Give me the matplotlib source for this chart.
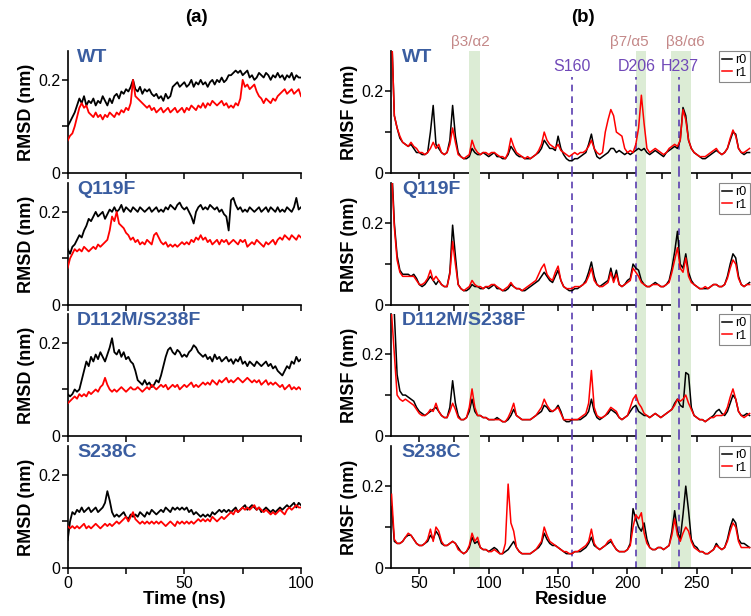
import numpy as np
import matplotlib
matplotlib.use("Agg")
import matplotlib.pyplot as plt

plt.rcParams['font.family'] = ['Liberation Sans', 'DejaVu Sans']

# ---------------- data ----------------
TIME = np.arange(0, 101)          # ns, 1 ns steps
RESIDUE = np.arange(30, 289, 2)   # residues 30..288

VARIANTS = ["WT", "Q119F", "D112M/S238F", "S238C"]

RMSD_WT_R0 = [0.10, 0.11, 0.12, 0.13, 0.145, 0.16, 0.15, 0.165, 0.145, 0.155,
              0.15, 0.16, 0.145, 0.155, 0.15, 0.165, 0.155, 0.145, 0.16, 0.15,
              0.165, 0.17, 0.16, 0.175, 0.17, 0.18, 0.175, 0.185, 0.2, 0.18,
              0.175, 0.185, 0.17, 0.18, 0.175, 0.18, 0.17, 0.165, 0.17, 0.16,
              0.165, 0.155, 0.17, 0.16, 0.165, 0.185, 0.19, 0.195, 0.185, 0.19,
              0.195, 0.185, 0.19, 0.2, 0.185, 0.195, 0.19, 0.2, 0.19, 0.195,
              0.185, 0.195, 0.2, 0.19, 0.2, 0.195, 0.205, 0.195, 0.2, 0.21,
              0.21, 0.215, 0.22, 0.215, 0.22, 0.21, 0.215, 0.22, 0.205, 0.21,
              0.2, 0.205, 0.215, 0.21, 0.205, 0.215, 0.21, 0.2, 0.21, 0.205,
              0.215, 0.205, 0.21, 0.2, 0.21, 0.205, 0.215, 0.2, 0.21, 0.205,
              0.205]
RMSD_WT_R1 = [0.07, 0.08, 0.085, 0.1, 0.12, 0.14, 0.15, 0.14, 0.145, 0.13,
              0.125, 0.12, 0.13, 0.12, 0.125, 0.115, 0.125, 0.12, 0.13, 0.125,
              0.12, 0.13, 0.125, 0.135, 0.13, 0.14, 0.135, 0.15, 0.2, 0.165,
              0.16, 0.155, 0.15, 0.145, 0.14, 0.145, 0.135, 0.14, 0.13, 0.135,
              0.14, 0.13, 0.135, 0.14, 0.13, 0.135, 0.14, 0.13, 0.135, 0.14,
              0.13, 0.14, 0.135, 0.145, 0.14, 0.135, 0.145, 0.14, 0.15, 0.14,
              0.15, 0.145, 0.155, 0.15, 0.145, 0.15, 0.155, 0.145, 0.15, 0.14,
              0.145, 0.14, 0.15, 0.145, 0.16, 0.2, 0.185, 0.19, 0.18, 0.185,
              0.19, 0.175, 0.165, 0.16, 0.15, 0.16, 0.155, 0.15, 0.16, 0.155,
              0.165, 0.17, 0.175, 0.18, 0.17, 0.175, 0.18, 0.17, 0.175, 0.18,
              0.165]

RMSD_Q119F_R0 = [0.12, 0.11, 0.125, 0.13, 0.14, 0.15, 0.145, 0.16, 0.17, 0.185,
                 0.18, 0.19, 0.2, 0.19, 0.195, 0.2, 0.185, 0.195, 0.205, 0.2,
                 0.21, 0.2, 0.205, 0.215, 0.2, 0.21, 0.205, 0.2, 0.21, 0.205,
                 0.2, 0.21, 0.205, 0.2, 0.205, 0.21, 0.2, 0.205, 0.21, 0.2,
                 0.205, 0.2, 0.21, 0.205, 0.215, 0.21, 0.205, 0.215, 0.22, 0.21,
                 0.205, 0.21, 0.2, 0.19, 0.175, 0.2, 0.21, 0.215, 0.205, 0.21,
                 0.205, 0.215, 0.21, 0.205, 0.21, 0.2, 0.205, 0.195, 0.19, 0.16,
                 0.225, 0.23, 0.215, 0.205, 0.21, 0.2, 0.205, 0.2, 0.21, 0.205,
                 0.2, 0.205, 0.21, 0.2, 0.205, 0.21, 0.2, 0.21, 0.205, 0.2,
                 0.21, 0.2, 0.205, 0.2, 0.21, 0.205, 0.2, 0.21, 0.23, 0.205,
                 0.21]
RMSD_Q119F_R1 = [0.08, 0.1, 0.11, 0.12, 0.115, 0.12, 0.115, 0.125, 0.12, 0.115,
                 0.12, 0.125, 0.12, 0.13, 0.125, 0.13, 0.135, 0.14, 0.16, 0.19,
                 0.18, 0.2, 0.175, 0.17, 0.165, 0.155, 0.15, 0.14, 0.145, 0.135,
                 0.14, 0.13, 0.135, 0.13, 0.14, 0.135, 0.13, 0.15, 0.155, 0.145,
                 0.135, 0.13, 0.135, 0.125, 0.13, 0.125, 0.13, 0.125, 0.13, 0.135,
                 0.13, 0.135, 0.13, 0.14, 0.135, 0.145, 0.14, 0.15, 0.14, 0.145,
                 0.135, 0.14, 0.13, 0.135, 0.14, 0.13, 0.14, 0.135, 0.14, 0.13,
                 0.135, 0.14, 0.135, 0.13, 0.14, 0.135, 0.14, 0.125, 0.13, 0.135,
                 0.13, 0.14, 0.135, 0.13, 0.125, 0.135, 0.13, 0.135, 0.14, 0.13,
                 0.14, 0.145, 0.14, 0.15, 0.145, 0.14, 0.15, 0.145, 0.14, 0.15,
                 0.145]

RMSD_D112M_R0 = [0.09, 0.085, 0.09, 0.1, 0.095, 0.1, 0.12, 0.14, 0.16, 0.15,
                 0.17, 0.16, 0.175, 0.165, 0.18, 0.17, 0.16, 0.175, 0.19, 0.21,
                 0.18, 0.175, 0.185, 0.17, 0.18, 0.165, 0.17, 0.16, 0.155, 0.14,
                 0.12, 0.115, 0.11, 0.12, 0.11, 0.115, 0.105, 0.11, 0.12, 0.115,
                 0.13, 0.15, 0.17, 0.185, 0.19, 0.18, 0.175, 0.185, 0.18, 0.17,
                 0.175, 0.17, 0.18, 0.185, 0.195, 0.19, 0.18, 0.175, 0.17, 0.175,
                 0.165, 0.17, 0.16, 0.175, 0.165, 0.17, 0.16, 0.165, 0.17, 0.16,
                 0.165, 0.155, 0.165, 0.16, 0.17, 0.155, 0.16, 0.15, 0.16, 0.155,
                 0.15, 0.16, 0.155, 0.15, 0.155, 0.16, 0.15, 0.155, 0.145, 0.15,
                 0.14, 0.135, 0.13, 0.14, 0.15, 0.145, 0.16, 0.155, 0.17, 0.16,
                 0.165]
RMSD_D112M_R1 = [0.07, 0.075, 0.08, 0.085, 0.08, 0.09, 0.085, 0.09, 0.085, 0.095,
                 0.09, 0.095, 0.1, 0.095, 0.105, 0.11, 0.125, 0.11, 0.1, 0.095,
                 0.1, 0.095, 0.1, 0.105, 0.1, 0.095, 0.1, 0.105, 0.1, 0.1,
                 0.105, 0.1, 0.095, 0.1, 0.105, 0.1, 0.11, 0.105, 0.1, 0.105,
                 0.11, 0.105, 0.11, 0.1, 0.105, 0.11, 0.105, 0.11, 0.1, 0.105,
                 0.11, 0.105, 0.11, 0.115, 0.105, 0.11, 0.105, 0.11, 0.115, 0.11,
                 0.115, 0.11, 0.12, 0.115, 0.11, 0.12, 0.115, 0.12, 0.125, 0.115,
                 0.12, 0.115, 0.12, 0.125, 0.12, 0.115, 0.12, 0.125, 0.12, 0.115,
                 0.12, 0.115, 0.12, 0.11, 0.115, 0.12, 0.11, 0.115, 0.11, 0.115,
                 0.11, 0.105, 0.11, 0.1, 0.105, 0.11, 0.1, 0.105, 0.1, 0.105,
                 0.1]

RMSD_S238C_R0 = [0.06, 0.1, 0.12, 0.115, 0.125, 0.12, 0.13, 0.12, 0.125, 0.13,
                 0.12, 0.125, 0.13, 0.12, 0.125, 0.13, 0.14, 0.165, 0.145, 0.12,
                 0.11, 0.115, 0.11, 0.115, 0.12, 0.11, 0.105, 0.115, 0.11, 0.115,
                 0.11, 0.12, 0.115, 0.11, 0.12, 0.115, 0.125, 0.12, 0.115, 0.12,
                 0.125, 0.12, 0.13, 0.125, 0.12, 0.13, 0.125, 0.13, 0.125, 0.13,
                 0.125, 0.13, 0.12, 0.125, 0.115, 0.12, 0.115, 0.11, 0.115, 0.11,
                 0.115, 0.11, 0.12, 0.115, 0.12, 0.125, 0.12, 0.125, 0.12, 0.125,
                 0.12, 0.125, 0.13, 0.12, 0.125, 0.13, 0.135, 0.125, 0.13, 0.135,
                 0.13, 0.125, 0.13, 0.12, 0.125, 0.13, 0.125, 0.12, 0.125, 0.12,
                 0.125, 0.13, 0.125, 0.13, 0.135, 0.13, 0.135, 0.14, 0.13, 0.14,
                 0.135]
RMSD_S238C_R1 = [0.09, 0.085, 0.09, 0.085, 0.09, 0.085, 0.09, 0.095, 0.085, 0.09,
                 0.085, 0.09, 0.095, 0.09, 0.085, 0.09, 0.095, 0.09, 0.095, 0.09,
                 0.095, 0.1, 0.095, 0.1, 0.105, 0.11, 0.1, 0.11, 0.12, 0.105,
                 0.1, 0.095, 0.1, 0.095, 0.1, 0.095, 0.1, 0.095, 0.1, 0.095,
                 0.1, 0.095, 0.09, 0.095, 0.1, 0.095, 0.09, 0.1, 0.095, 0.1,
                 0.095, 0.1, 0.095, 0.1, 0.095, 0.1, 0.105, 0.1, 0.105, 0.1,
                 0.105, 0.1, 0.11, 0.105, 0.1, 0.105, 0.11, 0.105, 0.11, 0.115,
                 0.12, 0.115, 0.125, 0.12, 0.125, 0.13, 0.125, 0.13, 0.125, 0.13,
                 0.135, 0.125, 0.13, 0.125, 0.12, 0.125, 0.12, 0.115, 0.12, 0.115,
                 0.12, 0.125, 0.12, 0.115, 0.125, 0.13, 0.125, 0.13, 0.135, 0.13,
                 0.13]

RMSF_WT_R0 = [0.35, 0.14, 0.11, 0.085, 0.075, 0.07, 0.065, 0.07, 0.06, 0.05,
              0.05, 0.045, 0.045, 0.05, 0.1, 0.165, 0.07, 0.06, 0.05, 0.045,
              0.05, 0.08, 0.165, 0.09, 0.05, 0.04, 0.035, 0.035, 0.04, 0.06,
              0.05, 0.045, 0.045, 0.05, 0.045, 0.04, 0.045, 0.05, 0.04, 0.04,
              0.035, 0.035, 0.045, 0.065, 0.055, 0.045, 0.04, 0.04, 0.035, 0.035,
              0.035, 0.04, 0.045, 0.05, 0.06, 0.08, 0.07, 0.06, 0.06, 0.055,
              0.09, 0.06, 0.045, 0.035, 0.03, 0.03, 0.035, 0.035, 0.04, 0.045,
              0.05, 0.07, 0.095, 0.06, 0.04, 0.035, 0.04, 0.045, 0.05, 0.06,
              0.06, 0.05, 0.055, 0.05, 0.045, 0.05, 0.045, 0.05, 0.055, 0.06,
              0.055, 0.06, 0.05, 0.045, 0.05, 0.055, 0.05, 0.045, 0.04, 0.05,
              0.055, 0.06, 0.065, 0.06, 0.08, 0.16, 0.14, 0.08, 0.06, 0.05,
              0.045, 0.04, 0.035, 0.035, 0.04, 0.045, 0.05, 0.055, 0.05, 0.045,
              0.05, 0.06, 0.08, 0.1, 0.095, 0.06, 0.05, 0.045, 0.05, 0.05]
RMSF_WT_R1 = [0.35, 0.14, 0.11, 0.09, 0.075, 0.07, 0.065, 0.075, 0.065, 0.06,
              0.05, 0.05, 0.045, 0.05, 0.06, 0.075, 0.06, 0.07, 0.05, 0.045,
              0.05, 0.07, 0.11, 0.075, 0.045, 0.04, 0.035, 0.04, 0.045, 0.08,
              0.06, 0.05, 0.045, 0.05, 0.05, 0.045, 0.05, 0.05, 0.045, 0.04,
              0.04, 0.035, 0.05, 0.085, 0.065, 0.05, 0.045, 0.04, 0.035, 0.04,
              0.035, 0.04, 0.045, 0.055, 0.07, 0.1, 0.08, 0.07, 0.065, 0.06,
              0.07, 0.055, 0.05, 0.045, 0.04, 0.045, 0.05, 0.045, 0.05, 0.05,
              0.055, 0.065, 0.08, 0.06, 0.05, 0.045, 0.05, 0.1, 0.13, 0.155,
              0.14, 0.1, 0.095, 0.09, 0.06, 0.05, 0.055, 0.05, 0.07, 0.11,
              0.19, 0.12, 0.06, 0.05, 0.055, 0.06, 0.055, 0.05, 0.045, 0.05,
              0.06, 0.065, 0.07, 0.065, 0.08, 0.155, 0.13, 0.08, 0.06, 0.05,
              0.045, 0.04, 0.04, 0.04, 0.045, 0.05, 0.055, 0.06, 0.05, 0.045,
              0.05, 0.06, 0.085, 0.105, 0.09, 0.06, 0.05, 0.05, 0.055, 0.06]

RMSF_Q119F_R0 = [0.35, 0.2, 0.12, 0.085, 0.075, 0.075, 0.075, 0.07, 0.075, 0.065,
                 0.05, 0.045, 0.05, 0.06, 0.07, 0.06, 0.05, 0.06, 0.05, 0.045,
                 0.045, 0.08, 0.195, 0.12, 0.05, 0.04, 0.035, 0.035, 0.04, 0.05,
                 0.045, 0.045, 0.04, 0.04, 0.045, 0.04, 0.045, 0.05, 0.04, 0.04,
                 0.035, 0.035, 0.04, 0.05, 0.045, 0.04, 0.04, 0.035, 0.035, 0.04,
                 0.045, 0.05, 0.055, 0.06, 0.07, 0.08, 0.07, 0.06, 0.055, 0.07,
                 0.085, 0.06, 0.045, 0.04, 0.035, 0.035, 0.04, 0.04, 0.045, 0.05,
                 0.06, 0.08, 0.105, 0.07, 0.05, 0.045, 0.05, 0.055, 0.06, 0.09,
                 0.06, 0.085, 0.05, 0.045, 0.05, 0.06, 0.065, 0.1, 0.09, 0.085,
                 0.06, 0.05, 0.045, 0.045, 0.05, 0.055, 0.05, 0.045, 0.045, 0.05,
                 0.06, 0.09, 0.13, 0.18, 0.1, 0.09, 0.125, 0.08, 0.06, 0.05,
                 0.045, 0.04, 0.04, 0.04, 0.04, 0.045, 0.05, 0.05, 0.045, 0.045,
                 0.05, 0.07, 0.1, 0.125, 0.115, 0.07, 0.05, 0.045, 0.05, 0.055]
RMSF_Q119F_R1 = [0.33, 0.19, 0.11, 0.08, 0.07, 0.07, 0.07, 0.07, 0.07, 0.06,
                 0.05, 0.05, 0.055, 0.065, 0.085, 0.06, 0.07, 0.06, 0.05, 0.045,
                 0.045, 0.075, 0.155, 0.1, 0.05, 0.04, 0.035, 0.04, 0.045, 0.06,
                 0.05, 0.045, 0.045, 0.04, 0.045, 0.045, 0.05, 0.05, 0.045, 0.04,
                 0.035, 0.04, 0.045, 0.055, 0.045, 0.04, 0.04, 0.035, 0.04, 0.045,
                 0.05, 0.055, 0.06, 0.075, 0.09, 0.1, 0.075, 0.065, 0.06, 0.08,
                 0.095, 0.06, 0.045, 0.04, 0.04, 0.04, 0.045, 0.045, 0.045, 0.05,
                 0.055, 0.07, 0.09, 0.06, 0.05, 0.045, 0.045, 0.05, 0.055, 0.08,
                 0.055, 0.075, 0.05, 0.045, 0.05, 0.055, 0.06, 0.09, 0.08, 0.07,
                 0.055, 0.05, 0.045, 0.045, 0.05, 0.05, 0.05, 0.045, 0.045, 0.05,
                 0.055, 0.08, 0.11, 0.14, 0.09, 0.08, 0.115, 0.07, 0.055, 0.05,
                 0.045, 0.04, 0.04, 0.045, 0.04, 0.045, 0.05, 0.05, 0.045, 0.045,
                 0.05, 0.065, 0.09, 0.11, 0.1, 0.065, 0.05, 0.045, 0.05, 0.05]

RMSF_D112M_R0 = [0.35, 0.3, 0.15, 0.11, 0.1, 0.1, 0.095, 0.09, 0.085, 0.07,
                 0.06, 0.055, 0.05, 0.055, 0.06, 0.065, 0.07, 0.06, 0.05, 0.045,
                 0.045, 0.07, 0.135, 0.08, 0.05, 0.04, 0.04, 0.045, 0.06, 0.09,
                 0.06, 0.05, 0.05, 0.045, 0.045, 0.04, 0.04, 0.04, 0.045, 0.04,
                 0.035, 0.035, 0.04, 0.05, 0.065, 0.05, 0.045, 0.04, 0.04, 0.04,
                 0.04, 0.045, 0.05, 0.055, 0.06, 0.075, 0.07, 0.06, 0.06, 0.065,
                 0.075, 0.06, 0.04, 0.035, 0.035, 0.04, 0.04, 0.04, 0.04, 0.045,
                 0.05, 0.06, 0.09, 0.06, 0.045, 0.04, 0.045, 0.05, 0.055, 0.065,
                 0.06, 0.055, 0.045, 0.04, 0.045, 0.05, 0.06, 0.07, 0.075, 0.06,
                 0.055, 0.05, 0.05, 0.045, 0.05, 0.055, 0.05, 0.045, 0.05, 0.055,
                 0.06, 0.065, 0.08, 0.09, 0.075, 0.07, 0.155, 0.15, 0.07, 0.05,
                 0.045, 0.04, 0.04, 0.035, 0.04, 0.045, 0.05, 0.06, 0.065, 0.055,
                 0.05, 0.06, 0.08, 0.1, 0.09, 0.06, 0.05, 0.05, 0.055, 0.05]
RMSF_D112M_R1 = [0.3, 0.2, 0.1, 0.09, 0.085, 0.09, 0.085, 0.08, 0.075, 0.065,
                 0.055, 0.05, 0.05, 0.055, 0.065, 0.06, 0.08, 0.06, 0.05, 0.045,
                 0.045, 0.06, 0.08, 0.065, 0.045, 0.04, 0.04, 0.045, 0.07, 0.115,
                 0.07, 0.05, 0.05, 0.045, 0.045, 0.04, 0.04, 0.04, 0.04, 0.04,
                 0.035, 0.035, 0.045, 0.06, 0.08, 0.05, 0.045, 0.04, 0.04, 0.04,
                 0.04, 0.045, 0.05, 0.06, 0.07, 0.09, 0.075, 0.065, 0.06, 0.065,
                 0.07, 0.055, 0.04, 0.04, 0.04, 0.04, 0.04, 0.04, 0.045, 0.05,
                 0.055, 0.08, 0.16, 0.07, 0.05, 0.045, 0.045, 0.05, 0.06, 0.07,
                 0.065, 0.06, 0.045, 0.04, 0.045, 0.05, 0.07, 0.09, 0.1, 0.08,
                 0.07, 0.055, 0.05, 0.045, 0.05, 0.055, 0.05, 0.045, 0.05, 0.055,
                 0.06, 0.065, 0.075, 0.09, 0.085, 0.09, 0.1, 0.08, 0.065, 0.05,
                 0.045, 0.04, 0.04, 0.035, 0.04, 0.045, 0.045, 0.05, 0.05, 0.05,
                 0.055, 0.07, 0.095, 0.115, 0.09, 0.06, 0.05, 0.045, 0.05, 0.055]

RMSF_S238C_R0 = [0.15, 0.065, 0.06, 0.06, 0.065, 0.075, 0.08, 0.08, 0.07, 0.06,
                 0.055, 0.055, 0.06, 0.065, 0.08, 0.07, 0.09, 0.08, 0.06, 0.055,
                 0.055, 0.06, 0.065, 0.06, 0.05, 0.04, 0.035, 0.04, 0.05, 0.075,
                 0.06, 0.065, 0.05, 0.045, 0.045, 0.04, 0.045, 0.05, 0.045, 0.035,
                 0.035, 0.04, 0.045, 0.055, 0.065, 0.05, 0.04, 0.035, 0.035, 0.035,
                 0.035, 0.04, 0.045, 0.05, 0.06, 0.085, 0.07, 0.06, 0.055, 0.055,
                 0.05, 0.045, 0.04, 0.035, 0.035, 0.035, 0.04, 0.04, 0.04, 0.045,
                 0.05, 0.06, 0.075, 0.055, 0.05, 0.045, 0.05, 0.055, 0.06, 0.065,
                 0.055, 0.045, 0.04, 0.04, 0.04, 0.045, 0.06, 0.145, 0.12, 0.1,
                 0.09, 0.11, 0.07, 0.05, 0.045, 0.045, 0.05, 0.05, 0.045, 0.05,
                 0.055, 0.09, 0.14, 0.09, 0.07, 0.13, 0.2, 0.14, 0.07, 0.055,
                 0.05, 0.04, 0.04, 0.035, 0.035, 0.04, 0.045, 0.06, 0.05, 0.045,
                 0.05, 0.07, 0.1, 0.12, 0.11, 0.07, 0.06, 0.06, 0.055, 0.05]
RMSF_S238C_R1 = [0.18, 0.07, 0.06, 0.06, 0.065, 0.075, 0.085, 0.08, 0.07, 0.06,
                 0.055, 0.055, 0.06, 0.07, 0.095, 0.065, 0.1, 0.09, 0.065, 0.055,
                 0.055, 0.06, 0.065, 0.06, 0.045, 0.04, 0.035, 0.04, 0.055, 0.085,
                 0.065, 0.075, 0.05, 0.045, 0.045, 0.04, 0.04, 0.045, 0.04, 0.035,
                 0.035, 0.06, 0.205, 0.11, 0.09, 0.05, 0.04, 0.035, 0.035, 0.035,
                 0.035, 0.04, 0.045, 0.055, 0.065, 0.1, 0.08, 0.065, 0.06, 0.055,
                 0.05, 0.045, 0.04, 0.04, 0.035, 0.035, 0.04, 0.04, 0.045, 0.05,
                 0.055, 0.065, 0.095, 0.06, 0.05, 0.045, 0.05, 0.055, 0.065, 0.07,
                 0.055, 0.045, 0.04, 0.04, 0.04, 0.045, 0.055, 0.1, 0.13, 0.12,
                 0.135, 0.085, 0.06, 0.05, 0.045, 0.045, 0.05, 0.05, 0.045, 0.05,
                 0.055, 0.08, 0.12, 0.08, 0.065, 0.085, 0.1, 0.09, 0.065, 0.05,
                 0.045, 0.04, 0.04, 0.035, 0.035, 0.04, 0.045, 0.055, 0.05, 0.045,
                 0.05, 0.065, 0.09, 0.11, 0.1, 0.065, 0.05, 0.05, 0.05, 0.05]

RMSD = [(RMSD_WT_R0, RMSD_WT_R1), (RMSD_Q119F_R0, RMSD_Q119F_R1),
        (RMSD_D112M_R0, RMSD_D112M_R1), (RMSD_S238C_R0, RMSD_S238C_R1)]
RMSF = [(RMSF_WT_R0, RMSF_WT_R1), (RMSF_Q119F_R0, RMSF_Q119F_R1),
        (RMSF_D112M_R0, RMSF_D112M_R1), (RMSF_S238C_R0, RMSF_S238C_R1)]

# structural regions (shaded) and key residues (dashed)
REGION_NAMES = ["β3/α2", "β7/α5", "β8/α6"]
REGION_SPANS = [(86, 94), (206, 213), (231, 246)]
KEY_NAMES = ["S160", "D206", "H237"]
KEY_RES = [160, 206, 237]

# label x positions (residue units)
REGION_LABEL_X = [87, 201, 241.5]
KEY_LABEL_X = [160, 207, 238]

# ---------------- style ----------------
LABEL_BLUE = "#3a5da0"
BAND = "#dcecd5"
DASH = "#5a3db0"
KEY_TXT = "#7048b8"
REG_TXT = "#c48888"

W, H = 751, 616
fig = plt.figure(figsize=(W / 100, H / 100), dpi=100)

bottoms_px = [173, 305, 436, 568]
h_px = 122

def style_axes(ax):
    for s in ("top", "right"):
        ax.spines[s].set_visible(False)
    for s in ("left", "bottom"):
        ax.spines[s].set_linewidth(1.2)
    ax.tick_params(direction="out", length=4, width=1.1, labelsize=11.5, pad=1.5)

axes_l, axes_r = [], []
for b in bottoms_px:
    y0 = 1 - b / H
    axes_l.append(fig.add_axes([67.7 / W, y0, 233.3 / W, h_px / H]))
    axes_r.append(fig.add_axes([391 / W, y0, (W - 391) / W, h_px / H]))

for i, ax in enumerate(axes_l):
    r0, r1 = RMSD[i]
    ax.plot(TIME, r0, color="black", lw=1.3, zorder=3)
    ax.plot(TIME, r1, color="red", lw=1.3, zorder=4)
    ax.set_xlim(0, 100)
    ax.set_ylim(0, 0.262)
    ax.set_xticks([0, 25, 50, 75, 100])
    ax.set_yticks([0, 0.1, 0.2])
    ax.set_yticklabels(["0", "", "0.2"])
    if i == 3:
        ax.set_xticklabels(["0", "", "50", "", "100"])
        ax.set_xlabel("Time (ns)", fontsize=13.5, fontweight="bold", labelpad=0)
    else:
        ax.set_xticklabels([])
    ax.set_ylabel("RMSD (nm)", fontsize=13, fontweight="bold", labelpad=2)
    style_axes(ax)
    ax.text(0.04, 0.95, VARIANTS[i], transform=ax.transAxes, color=LABEL_BLUE,
            fontsize=14, fontweight="bold", va="center", ha="left")

for i, ax in enumerate(axes_r):
    r0, r1 = RMSF[i]
    ext = 1.0 if i == 0 else 1.09
    for a, b in REGION_SPANS:
        band = ax.axvspan(a, b, ymin=0, ymax=ext, color=BAND, lw=0, zorder=0)
        band.set_clip_on(False)
    for res in KEY_RES:
        top = 0.79 if i == 0 else ext
        ln = ax.axvline(res, ymin=0, ymax=top, color=DASH, lw=1.2,
                        dashes=(4, 3), zorder=2)
        ln.set_clip_on(False)
    l0, = ax.plot(RESIDUE, r0, color="black", lw=1.1, zorder=3, label="r0")
    l1, = ax.plot(RESIDUE, r1, color="red", lw=1.1, zorder=4, label="r1")
    ax.set_xlim(29.6, 289)
    ax.set_ylim(0, 0.298)
    ax.set_xticks(np.arange(50, 289, 25))
    ax.set_yticks([0, 0.1, 0.2])
    ax.set_yticklabels(["0", "", "0.2"])
    if i == 3:
        ax.set_xticklabels(["50", "", "100", "", "150", "", "200", "", "250", ""])
        ax.set_xlabel("Residue", fontsize=13.5, fontweight="bold", labelpad=0)
    else:
        ax.set_xticklabels([])
    ax.set_ylabel("RMSF (nm)", fontsize=13, fontweight="bold", labelpad=2)
    style_axes(ax)
    ax.text(0.03, 0.95, VARIANTS[i], transform=ax.transAxes, color=LABEL_BLUE,
            fontsize=14, fontweight="bold", va="center", ha="left")
    leg = ax.legend(handles=[l0, l1], loc="upper right", bbox_to_anchor=(0.997, 1.0),
                    fontsize=9, handlelength=0.8, handletextpad=0.3,
                    labelspacing=0.05, borderpad=0.25, borderaxespad=0,
                    fancybox=False, framealpha=1)
    leg.get_frame().set_edgecolor("#888888")
    leg.get_frame().set_linewidth(0.8)

# key residue labels in top panel
for name, xl in zip(KEY_NAMES, KEY_LABEL_X):
    axes_r[0].text(xl, 0.87, name, transform=axes_r[0].get_xaxis_transform(),
                   color=KEY_TXT, fontsize=11.5, ha="center", va="center", zorder=5)

# region labels above top panel
for name, xl in zip(REGION_NAMES, REGION_LABEL_X):
    axes_r[0].text(xl, 1.07, name, transform=axes_r[0].get_xaxis_transform(),
                   color=REG_TXT, fontsize=11, ha="center", va="center")

fig.text(196 / W, 1 - 18 / H, "(a)", fontsize=13.5, fontweight="bold", ha="center", va="center")
fig.text(583 / W, 1 - 18 / H, "(b)", fontsize=13.5, fontweight="bold", ha="center", va="center")

fig.savefig("out.png", dpi=100)
